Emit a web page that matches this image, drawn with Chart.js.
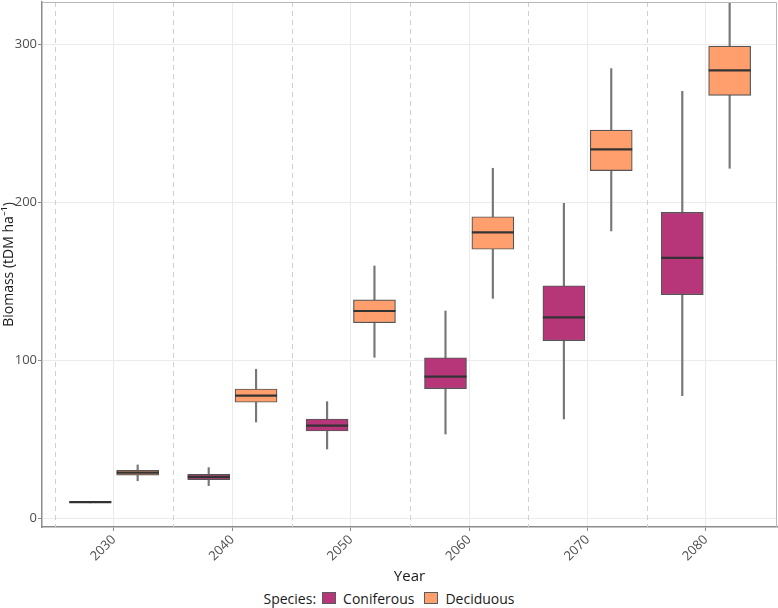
<!DOCTYPE html>
<html>
<head>
<meta charset="utf-8">
<script src="https://cdn.jsdelivr.net/npm/chart.js@4.4.1/dist/chart.umd.min.js"></script>
<style>
  body { margin: 0; background: #fff; font-family: "Open Sans", sans-serif; }
  #wrap { width: 778px; height: 588px; }
  #legend { display: flex; justify-content: center; align-items: center; height: 20px; font-size: 14px; color: #1a1a1a; }
  #legend .sw { display: inline-block; width: 14px; height: 12px; border: 1px solid #5c5c5c; margin: 0 7px 0 6px; box-sizing: border-box; }
  #legend .it { margin-right: 4px; }
</style>
</head>
<body>
<div id="wrap"><canvas id="grafica" width="778" height="588"></canvas></div>
<div id="legend">
  <span>Species:</span>
  <span class="sw" style="background:#B63679"></span><span class="it">Coniferous</span>
  <span class="sw" style="background:#FE9F6D"></span><span>Deciduous</span>
</div>
<script>
// Datos (biomasa, tDM/ha)
const years = [2030, 2040, 2050, 2060, 2070, 2080];
const xTicks = [2030, 2040, 2050, 2060, 2070, 2080];
const separators = [2025, 2035, 2045, 2055, 2065, 2075];
const yTicks = [0, 100, 200, 300];

const coniferMin = [9.6, 20.5, 43.7, 53.2, 62.7, 77.5];
const coniferQ1  = [9.8, 24.3, 55.1, 81.9, 112.3, 141.4];
const coniferMed = [10, 26, 58.5, 89.5, 127.1, 164.7];
const coniferQ3  = [10.2, 27.7, 62.7, 101.5, 147.1, 193.6];
const coniferMax = [10.4, 31.9, 73.7, 131.1, 199.3, 270.2];

const deciduMin = [23.6, 60.8, 101.8, 139.1, 181.8, 221.5];
const deciduQ1  = [27.2, 73.3, 123.7, 170.2, 220, 267.7];
const deciduMed = [28.7, 77.5, 131.1, 180.9, 233.5, 283.5];
const deciduQ3  = [30.2, 81.7, 138.1, 190.8, 245.7, 298.9];
const deciduMax = [33.6, 94.2, 159.6, 221.5, 284.6, 345];

const dodge = 2; // desplazamiento de cada especie respecto al año
const colConifer = '#B63679';
const colDecidu = '#FE9F6D';

function rango(lo, hi, off) {
    return years.map((y, i) => ({ x: y + off, y: [lo[i], hi[i]] }));
}

// Mediana, separadores y marco del panel
const extrasCaja = {
    id: 'extrasCaja',
    beforeDatasetsDraw(chart) {
        const { ctx, chartArea: a, scales: { x } } = chart;
        ctx.save();
        ctx.strokeStyle = '#d0d0d0';
        ctx.lineWidth = 1;
        ctx.setLineDash([5, 4]);
        separators.forEach(v => {
            const px = Math.round(x.getPixelForValue(v)) + 0.5;
            ctx.beginPath();
            ctx.moveTo(px, a.top);
            ctx.lineTo(px, a.bottom);
            ctx.stroke();
        });
        ctx.restore();
    },
    afterDatasetsDraw(chart) {
        const { ctx, chartArea: a, scales: { y } } = chart;
        ctx.save();
        ctx.beginPath();
        ctx.rect(a.left, a.top, a.right - a.left, a.bottom - a.top);
        ctx.clip();
        ctx.strokeStyle = '#333333';
        ctx.lineWidth = 2.2;
        [[0, coniferMed], [1, deciduMed]].forEach(([idx, med]) => {
            chart.getDatasetMeta(idx).data.forEach((el, j) => {
                const py = y.getPixelForValue(med[j]);
                ctx.beginPath();
                ctx.moveTo(el.x - el.width / 2, py);
                ctx.lineTo(el.x + el.width / 2, py);
                ctx.stroke();
            });
        });
        ctx.restore();
        // marco superior y derecho
        ctx.save();
        ctx.strokeStyle = '#b8b8b8';
        ctx.lineWidth = 1;
        ctx.beginPath();
        ctx.moveTo(a.left, a.top + 0.5);
        ctx.lineTo(a.right - 0.5, a.top + 0.5);
        ctx.lineTo(a.right - 0.5, a.bottom);
        ctx.stroke();
        ctx.restore();
    }
};

const fuente = { family: '"Open Sans", sans-serif', size: 13 };

new Chart(document.getElementById('grafica').getContext('2d'), {
    type: 'bar',
    data: {
        datasets: [
            {
                label: 'Coniferous',
                data: rango(coniferQ1, coniferQ3, -dodge),
                backgroundColor: colConifer,
                borderColor: '#555555',
                borderWidth: 1.2,
                borderSkipped: false,
                barThickness: 42,
                grouped: false,
                order: 1
            },
            {
                label: 'Deciduous',
                data: rango(deciduQ1, deciduQ3, dodge),
                backgroundColor: colDecidu,
                borderColor: '#555555',
                borderWidth: 1.2,
                borderSkipped: false,
                barThickness: 42,
                grouped: false,
                order: 1
            },
            {
                label: 'Coniferous whiskers',
                data: rango(coniferMin, coniferMax, -dodge),
                backgroundColor: '#777777',
                borderWidth: 0,
                barThickness: 1.5,
                grouped: false,
                order: 2
            },
            {
                label: 'Deciduous whiskers',
                data: rango(deciduMin, deciduMax, dodge),
                backgroundColor: '#777777',
                borderWidth: 0,
                barThickness: 1.5,
                grouped: false,
                order: 2
            }
        ]
    },
    options: {
        responsive: false,
        animation: false,
        devicePixelRatio: 1,
        layout: { padding: { top: 2, right: 1, left: 0, bottom: 0 } },
        plugins: {
            legend: { display: false },
            tooltip: { enabled: false }
        },
        scales: {
            x: {
                type: 'linear',
                offset: false,
                min: 2023.92,
                max: 2086.0,
                afterBuildTicks: s => { s.ticks = xTicks.map(v => ({ value: v })); },
                afterFit: s => { s.height = 61; s.paddingLeft = 0; s.paddingRight = 0; },
                ticks: {
                    callback: v => String(v),
                    minRotation: 45,
                    maxRotation: 45,
                    padding: 1,
                    color: '#4d4d4d',
                    font: fuente
                },
                grid: { offset: false, color: '#ebebeb', lineWidth: 1, tickColor: '#8c8c8c', tickLength: 4 },
                border: { color: '#8c8c8c', width: 1.5 },
                title: {
                    display: true,
                    text: 'Year',
                    color: '#1a1a1a',
                    font: { family: '"Open Sans", sans-serif', size: 15 },
                    padding: { top: 2, bottom: 2 }
                }
            },
            y: {
                min: -5.7,
                max: 326.8,
                afterBuildTicks: s => { s.ticks = yTicks.map(v => ({ value: v })); },
                afterFit: s => { s.width = 42; s.paddingTop = 0; s.paddingBottom = 0; },
                ticks: { color: '#4d4d4d', font: fuente, padding: 1 },
                grid: { color: '#ebebeb', lineWidth: 1, tickColor: '#8c8c8c', tickLength: 4 },
                border: { color: '#8c8c8c', width: 1.5 },
                title: {
                    display: true,
                    text: 'Biomass (tDM ha⁻¹)',
                    color: '#1a1a1a',
                    font: { family: '"Open Sans", sans-serif', size: 14 },
                    padding: { top: 1, bottom: 0 }
                }
            }
        }
    },
    plugins: [extrasCaja]
});
</script>
</body>
</html>
